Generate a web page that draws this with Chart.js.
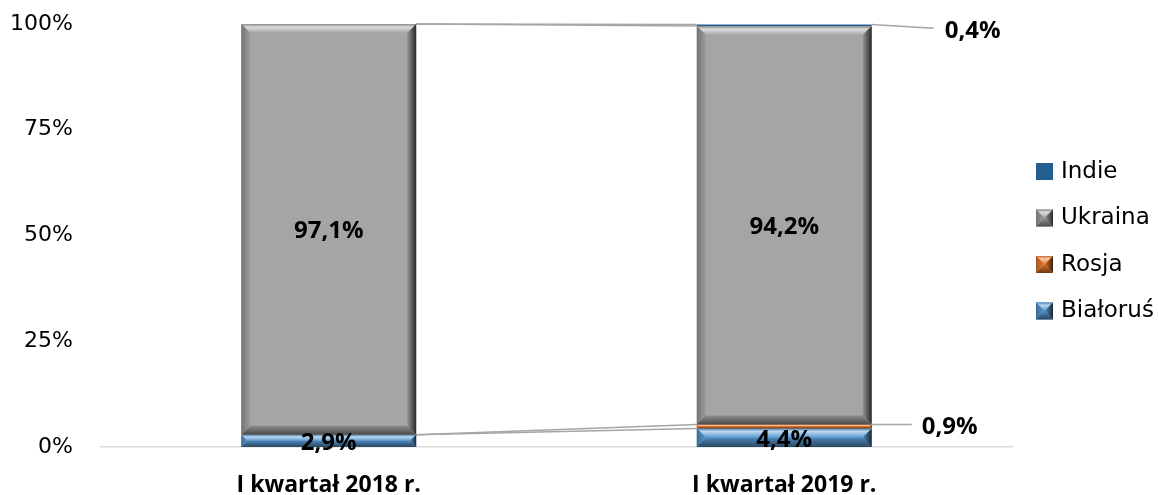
<!DOCTYPE html>
<html>
<head>
<meta charset="utf-8">
<script src="https://cdn.jsdelivr.net/npm/chart.js@4.4.1/dist/chart.umd.min.js"></script>
<style>
  html, body { margin: 0; padding: 0; background: #fff; }
  #wrap { width: 1159px; height: 495px; position: relative; }
</style>
</head>
<body>
<div id="wrap"><canvas id="chart"></canvas></div>
<script>
// data
const categories = ['I kwartał 2018 r.', 'I kwartał 2019 r.'];
const seriesNames = ['Białoruś', 'Rosja', 'Ukraina', 'Indie'];
const bialorus = [2.9, 4.4];
const rosja = [0, 0.9];
const ukraina = [97.1, 94.2];
const indie = [0, 0.4];
const yTicks = [0, 25, 50, 75, 100];

const FONT = '"DejaVu Sans", sans-serif';
const BOLD_FONT = '"Open Sans", sans-serif';
const colors = {
    'Białoruś': '#5b9bd5',
    'Rosja': '#ed7d31',
    'Ukraina': '#a5a5a5',
    'Indie': '#255e91'
};

const fmt = v => v.toFixed(1).replace('.', ',') + '%';

// simple colour helper: amt > 0 lightens towards white, < 0 darkens
const shade = (hex, amt) => {
    const n = parseInt(hex.slice(1), 16);
    let r = n >> 16, g = (n >> 8) & 255, b = n & 255;
    const f = c => amt >= 0 ? Math.round(c + (255 - c) * amt) : Math.round(c * (1 + amt));
    return `rgb(${f(r)},${f(g)},${f(b)})`;
};

const drawBevel = (ctx, l, t, r, b, color, size) => {
    const bw = Math.min(size, (b - t) / 2, (r - l) / 2);
    if (bw < 1) return;
    let g;
    // top band
    g = ctx.createLinearGradient(0, t, 0, t + bw);
    g.addColorStop(0, shade(color, -0.15));
    g.addColorStop(0.35, shade(color, 0.6));
    g.addColorStop(1, color);
    ctx.fillStyle = g;
    ctx.beginPath();
    ctx.moveTo(l, t); ctx.lineTo(r, t); ctx.lineTo(r - bw, t + bw); ctx.lineTo(l + bw, t + bw);
    ctx.closePath(); ctx.fill();
    // left band
    g = ctx.createLinearGradient(l, 0, l + bw, 0);
    g.addColorStop(0, shade(color, -0.3));
    g.addColorStop(1, shade(color, -0.05));
    ctx.fillStyle = g;
    ctx.beginPath();
    ctx.moveTo(l, t); ctx.lineTo(l + bw, t + bw); ctx.lineTo(l + bw, b - bw); ctx.lineTo(l, b);
    ctx.closePath(); ctx.fill();
    // right band
    g = ctx.createLinearGradient(r - bw, 0, r, 0);
    g.addColorStop(0, shade(color, -0.1));
    g.addColorStop(1, shade(color, -0.75));
    ctx.fillStyle = g;
    ctx.beginPath();
    ctx.moveTo(r, t); ctx.lineTo(r - bw, t + bw); ctx.lineTo(r - bw, b - bw); ctx.lineTo(r, b);
    ctx.closePath(); ctx.fill();
    // bottom band
    g = ctx.createLinearGradient(0, b - bw, 0, b);
    g.addColorStop(0, shade(color, -0.15));
    g.addColorStop(1, shade(color, -0.55));
    ctx.fillStyle = g;
    ctx.beginPath();
    ctx.moveTo(l, b); ctx.lineTo(l + bw, b - bw); ctx.lineTo(r - bw, b - bw); ctx.lineTo(r, b);
    ctx.closePath(); ctx.fill();
};

// series lines between bars, drawn before the bars
const seriesLinesPlugin = {
    id: 'seriesLines',
    beforeDatasetsDraw(chart) {
        const ctx = chart.ctx;
        ctx.save();
        ctx.strokeStyle = '#a6a6a6';
        ctx.lineWidth = 1.5;
        chart.data.datasets.forEach((ds, i) => {
            const els = chart.getDatasetMeta(i).data;
            for (let j = 0; j < els.length - 1; j++) {
                const a = els[j], b = els[j + 1];
                ctx.beginPath();
                ctx.moveTo(a.x + a.width / 2, a.y);
                ctx.lineTo(b.x - b.width / 2, b.y);
                ctx.stroke();
            }
        });
        ctx.restore();
    }
};

// bevels, value labels and the legend
const decorPlugin = {
    id: 'decor',
    afterDatasetsDraw(chart) {
        const ctx = chart.ctx;
        ctx.save();
        chart.data.datasets.forEach((ds, i) => {
            if (ds.label === 'Indie') return;
            chart.getDatasetMeta(i).data.forEach(el => {
                const top = Math.min(el.y, el.base), bot = Math.max(el.y, el.base);
                if (bot - top < 1) return;
                drawBevel(ctx, el.x - el.width / 2, top, el.x + el.width / 2, bot, ds.backgroundColor, 9);
            });
        });

        // labels
        ctx.font = 'bold 24px ' + BOLD_FONT;
        ctx.fillStyle = '#000';
        ctx.textBaseline = 'middle';
        chart.data.datasets.forEach((ds, i) => {
            chart.getDatasetMeta(i).data.forEach((el, j) => {
                const v = ds.data[j];
                if (!v) return;
                const right = el.x + el.width / 2;
                const mid = (el.y + el.base) / 2;
                if (v >= 2) {
                    ctx.textAlign = 'center';
                    ctx.fillText(fmt(v), el.x, mid + 2);
                } else {
                    const off = ds.label === 'Indie' ? { line: 62, text: 73, dy: 3 } : { line: 40, text: 50, dy: -2 };
                    ctx.strokeStyle = '#a6a6a6';
                    ctx.lineWidth = 1.5;
                    ctx.beginPath();
                    ctx.moveTo(right, el.y);
                    ctx.lineTo(right + off.line, mid + off.dy);
                    ctx.stroke();
                    ctx.textAlign = 'left';
                    ctx.fillText(fmt(v), right + off.text, mid + off.dy + 3);
                }
            });
        });

        // legend, reversed order like the original
        const lx = chart.chartArea.right + 24;
        let ly = 163;
        ctx.font = '23px ' + FONT;
        ctx.textAlign = 'left';
        seriesNames.slice().reverse().forEach(name => {
            const c = colors[name];
            ctx.fillStyle = c;
            ctx.fillRect(lx, ly, 17, 17);
            if (name !== 'Indie') {
                drawBevel(ctx, lx, ly, lx + 17, ly + 17, c, 8);
            }
            ctx.fillStyle = '#000';
            ctx.fillText(name, lx + 25, ly + 9);
            ly += 46.5;
        });
        ctx.restore();
    }
};

const values = { 'Białoruś': bialorus, 'Rosja': rosja, 'Ukraina': ukraina, 'Indie': indie };

new Chart(document.getElementById('chart'), {
    type: 'bar',
    data: {
        labels: categories,
        datasets: seriesNames.map(name => ({
            label: name,
            data: values[name],
            backgroundColor: colors[name],
            borderWidth: 0,
            categoryPercentage: 1,
            barPercentage: 0.384
        }))
    },
    options: {
        responsive: true,
        maintainAspectRatio: false,
        animation: false,
        layout: { padding: { top: 24, right: 147, left: 0, bottom: 0 } },
        scales: {
            x: {
                stacked: true,
                grid: { display: false, drawTicks: false },
                border: { color: '#d9d9d9', width: 1.5 },
                ticks: { color: '#000', font: { family: BOLD_FONT, size: 23, weight: 'bold' }, padding: 25 },
                afterFit: scale => { scale.height = 48; }
            },
            y: {
                stacked: true,
                min: 0,
                max: 100,
                afterBuildTicks: scale => { scale.ticks = yTicks.map(v => ({ value: v })); },
                grid: { display: false, drawTicks: false },
                border: { display: false },
                ticks: {
                    color: '#000',
                    font: { family: FONT, size: 22 },
                    padding: 28,
                    callback: v => v + '%'
                },
                afterFit: scale => {
                    // tick padding would otherwise push the plot top down
                    scale.width = 101;
                    scale.paddingTop = 0;
                    scale.paddingBottom = 0;
                }
            }
        },
        plugins: {
            legend: { display: false },
            tooltip: { enabled: false }
        }
    },
    plugins: [seriesLinesPlugin, decorPlugin]
});
</script>
</body>
</html>
